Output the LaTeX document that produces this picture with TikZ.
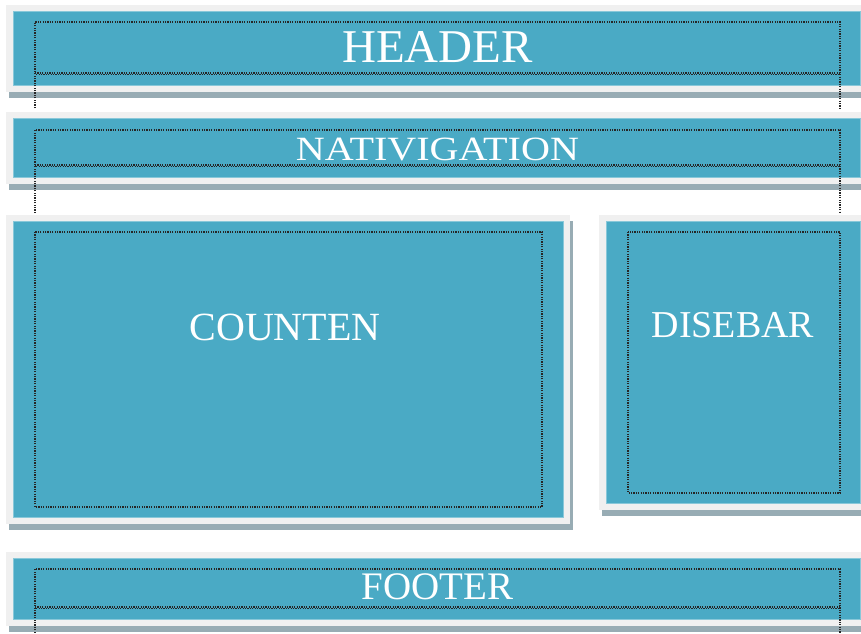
\documentclass[tikz,border=0pt]{standalone}
\usepackage{graphicx}
\usepackage{fontspec}
\setmainfont{Liberation Serif}
\definecolor{panelblue}{HTML}{4AAAC5}
\definecolor{rimgray}{HTML}{F0F0F0}
\definecolor{shadegray}{HTML}{98ACB4}
\definecolor{dotgray}{HTML}{262626}
\tikzset{
  rim/.style={fill=rimgray},
  dropshade/.style={fill=shadegray},
  panel/.style={fill=panelblue, draw=panelblue!65!white, line width=.8pt},
  dots/.style={draw=dotgray, line width=1.4pt, dash pattern=on 1.2pt off 1.2pt},
  dots shifted/.style={dots, dash phase=1.2pt},
  caption/.style={text=white, inner sep=0pt}
}
% #1,#2 = top left, #3,#4 = bottom right of the blue part
\newcommand{\pagepart}[4]{
  \fill[dropshade] (#1-4,#2) rectangle (#3+10,#4+13);
  \fill[rim] (#1-7,#2-6) rectangle (#3+7,#4+7);
  \filldraw[panel] (#1,#2) rectangle (#3,#4);
}

\begin{document}
\begin{tikzpicture}[x=1pt, y=-1pt]
    \fill[white] (0,0) rectangle (861,633);
    \useasboundingbox (0,0) rectangle (861,633);

    \pagepart{13}{11}{860}{85}
    \pagepart{13}{118}{860}{177}
    \pagepart{13}{221}{563}{517}
    \pagepart{606}{221}{860}{503}
    \pagepart{13}{558}{860}{619}

    % full width bars
    \foreach \top/\mid/\bot in {22/73/108, 130/165/213, 569/607/640} {
      \draw[dots] (35,\bot) -- (35,\top) -- (840,\top) -- (840,\bot);
      \draw[dots] (35,\mid) -- (840,\mid);
      \draw[dots shifted] (35,\mid+1.4) -- (840,\mid+1.4);
    }
    \draw[dots] (35,232) rectangle (542,507);
    \draw[dots] (628,232) rectangle (840,493);

    \node[caption, font=\fontsize{47}{50}\selectfont] (header) at (437.5,47) {HEADER};
    \node[caption, font=\fontsize{34}{36}\selectfont] (nav) at (437.5,149) {\scalebox{1.18}[1]{NATIVIGATION}};
    \node[caption, font=\fontsize{40}{42}\selectfont] (content) at (285,327) {COUNTEN};
    \node[caption, font=\fontsize{38}{40}\selectfont] (sidebar) at (733,325) {DISEBAR};
    \node[caption, font=\fontsize{39}{42}\selectfont] (footer) at (437.5,587) {FOOTER};
\end{tikzpicture}
\end{document}
